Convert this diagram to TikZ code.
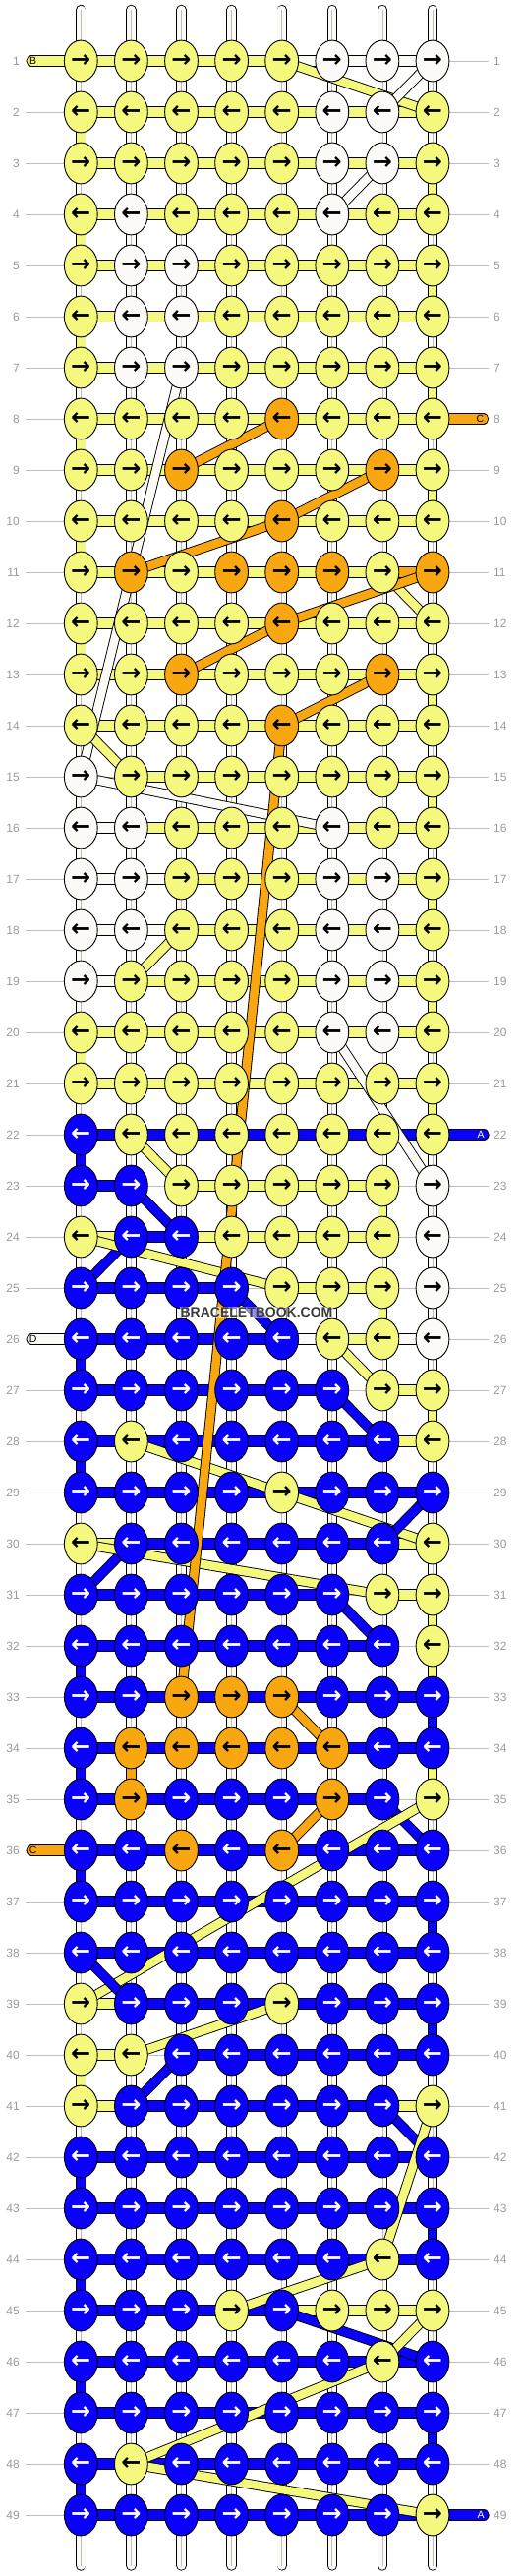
\documentclass[tikz,border=0pt]{standalone}
\usepackage{fontspec}
\setmainfont{Liberation Sans}
\newfontfamily\arrowfont{DejaVu Sans}
\usetikzlibrary{shapes.geometric}

\definecolor{yarnY}{HTML}{F4F97D}
\definecolor{yarnW}{HTML}{FBFAF7}
\definecolor{yarnO}{HTML}{F8A710}
\definecolor{yarnB}{HTML}{0A00FF}
\definecolor{guidegray}{HTML}{BDBDBD}
\definecolor{numgray}{HTML}{9A9A9A}
\definecolor{markgray}{HTML}{3C3C3C}
\colorlet{tipY}{black}
\colorlet{tipW}{black}
\colorlet{tipO}{black}
\colorlet{tipB}{white}

\pgfdeclarelayer{guides}
\pgfdeclarelayer{threads}
\pgfdeclarelayer{crossings}
\pgfsetlayers{guides,threads,crossings,main}

\tikzset{
  knot/.style={ellipse, draw, line width=0.9pt, fill=yarn#1, text=tip#1,
    minimum width=33.8pt, minimum height=41.8pt, inner sep=0pt,
    font=\arrowfont\bfseries\fontsize{24}{24}\selectfont},
  strand/.style={line width=0.9pt, double=yarn#1, double distance=8.5pt},
  link/.style={line width=0.9pt, double=yarn#1, double distance=9.5pt},
  basecore/.style={guidegray, line width=0.8pt},
  rownum/.style={text=numgray, inner sep=0pt, font=\fontsize{12}{12}\selectfont},
  tag/.style={inner sep=0pt, font=\fontsize{10.5}{10.5}\selectfont}
}

\begin{document}
\begin{tikzpicture}[x=1pt, y=-1pt]
\useasboundingbox (0,0) rectangle (532,2620);
% Knots
\foreach \r/\row in {
  1/{Y,Y,Y,Y,Y,W,W,W}, 2/{Y,Y,Y,Y,Y,W,W,Y}, 3/{Y,Y,Y,Y,Y,W,W,Y},
  4/{Y,W,Y,Y,Y,W,Y,Y}, 5/{Y,W,W,Y,Y,Y,Y,Y}, 6/{Y,W,W,Y,Y,Y,Y,Y},
  7/{Y,W,W,Y,Y,Y,Y,Y}, 8/{Y,Y,Y,Y,O,Y,Y,Y}, 9/{Y,Y,O,Y,Y,Y,O,Y},
  10/{Y,Y,Y,Y,O,Y,Y,Y}, 11/{Y,O,Y,O,O,O,Y,O}, 12/{Y,Y,Y,Y,O,Y,Y,Y},
  13/{Y,Y,O,Y,Y,Y,O,Y}, 14/{Y,Y,Y,Y,O,Y,Y,Y}, 15/{W,Y,Y,Y,Y,Y,Y,Y},
  16/{W,W,Y,Y,Y,W,Y,Y}, 17/{W,W,Y,Y,Y,W,W,Y}, 18/{W,W,Y,Y,Y,W,W,Y},
  19/{W,Y,Y,Y,Y,W,W,Y}, 20/{Y,Y,Y,Y,Y,W,W,Y}, 21/{Y,Y,Y,Y,Y,Y,Y,Y},
  22/{B,Y,Y,Y,Y,Y,Y,Y}, 23/{B,B,Y,Y,Y,Y,Y,W}, 24/{Y,B,B,Y,Y,Y,Y,W},
  25/{B,B,B,B,Y,Y,Y,W}, 26/{B,B,B,B,B,Y,Y,W}, 27/{B,B,B,B,B,B,Y,Y},
  28/{B,Y,B,B,B,B,B,Y}, 29/{B,B,B,B,Y,B,B,B}, 30/{Y,B,B,B,B,B,B,Y},
  31/{B,B,B,B,B,B,Y,Y}, 32/{B,B,B,B,B,B,B,Y}, 33/{B,B,O,O,O,B,B,B},
  34/{B,O,O,O,O,O,B,B}, 35/{B,O,B,B,B,O,B,Y}, 36/{B,B,O,B,O,B,B,B},
  37/{B,B,B,B,B,B,B,B}, 38/{B,B,B,B,B,B,B,B}, 39/{Y,B,B,B,Y,B,B,B},
  40/{Y,Y,B,B,B,B,B,B}, 41/{Y,B,B,B,B,B,B,Y}, 42/{B,B,B,B,B,B,B,B},
  43/{B,B,B,B,B,B,B,B}, 44/{B,B,B,B,B,B,Y,B}, 45/{B,B,B,Y,B,Y,Y,Y},
  46/{B,B,B,B,B,B,Y,B}, 47/{B,B,B,B,B,B,B,B}, 48/{B,Y,B,B,B,B,B,B},
  49/{B,B,B,B,B,B,B,Y}}{
  \ifodd\r \def\tip{→}\else \def\tip{←}\fi
  \foreach \k [count=\c] in \row
    \node[knot=\k] (k-\r-\c) at ({82.3+51.1*(\c-1)}, {62+52*(\r-1)}) {\tip};
}
% Row numbers and guide lines
\foreach \r in {1,...,49}{
  \node[rownum, anchor=east] (nl-\r) at (20, {62+52*(\r-1)}) {\r};
  \node[rownum, anchor=west] (nr-\r) at (502, {62+52*(\r-1)}) {\r};
  \begin{pgfonlayer}{guides}
    \draw[guidegray, line width=0.8pt, shorten <=6pt, shorten >=5pt] (nl-\r.east) -- (nr-\r.west);
  \end{pgfonlayer}
}
\begin{pgfonlayer}{threads}
% Base strings, top and bottom
\foreach \c in {1,...,8}{
  \coordinate (top-\c) at ({82.3+51.1*(\c-1)}, 10);
  \coordinate (bot-\c) at ({82.3+51.1*(\c-1)}, 2609.5);
  \draw[strand=W, line cap=round] (top-\c) -- (k-1-\c.center);
  \draw[basecore] (top-\c) -- (k-1-\c.center);
  \draw[strand=W, line cap=round] (k-49-\c.center) -- (bot-\c);
  \draw[basecore] (k-49-\c.center) -- (bot-\c);
}
% Base strings between rows
\foreach \r in {1,...,48}{
  \pgfmathtruncatemacro\s{\r+1}
  \foreach \c in {1,...,8}{
    \draw[strand=W] (k-\r-\c.center) -- (k-\s-\c.center);
    \draw[basecore] (k-\r-\c.center) -- (k-\s-\c.center);
  }
}
% Working threads turning down
\foreach \r/\c/\k in {2/1/Y, 3/8/Y, 4/1/Y, 5/8/Y, 6/1/Y, 7/8/Y, 8/1/Y, 9/8/Y,
  10/1/Y, 12/1/Y, 13/8/Y, 15/8/Y, 17/8/Y, 19/8/Y, 20/1/Y, 21/8/Y, 22/1/B,
  23/7/Y, 25/7/Y, 26/1/B, 27/8/Y, 28/1/B, 31/8/Y, 32/1/B, 32/8/Y, 33/8/B,
  34/1/B, 34/2/O, 34/8/Y, 36/1/B, 37/8/B, 39/8/B, 40/1/Y, 42/1/B, 43/8/B,
  44/1/B, 46/1/B, 47/8/B, 48/1/B}{
  \pgfmathtruncatemacro\s{\r+1}
  \draw[strand=\k] (k-\r-\c.center) -- (k-\s-\c.center);
}
% Working threads along the rows
\foreach \r/\row in {
  1/{Y,Y,Y,Y,W,W,W}, 2/{Y,Y,Y,Y,Y,Y,Y}, 3/{Y,Y,Y,Y,Y,Y,Y}, 4/{Y,Y,Y,Y,Y,Y,Y},
  5/{Y,Y,Y,Y,Y,Y,Y}, 6/{Y,Y,Y,Y,Y,Y,Y}, 7/{Y,Y,Y,Y,Y,Y,Y}, 8/{Y,Y,Y,Y,Y,Y,Y},
  9/{Y,Y,Y,Y,Y,Y,Y}, 10/{Y,Y,Y,Y,Y,Y,Y}, 11/{Y,Y,Y,Y,Y,Y,O}, 12/{Y,Y,Y,Y,Y,Y,Y},
  13/{Y,Y,Y,Y,Y,Y,Y}, 14/{Y,Y,Y,Y,Y,Y,Y}, 15/{N,Y,Y,Y,Y,Y,Y}, 16/{W,Y,Y,Y,Y,Y,Y},
  17/{W,W,Y,Y,Y,Y,Y}, 18/{W,W,Y,Y,Y,Y,Y}, 19/{W,Y,Y,Y,Y,Y,Y}, 20/{Y,Y,Y,Y,Y,Y,Y},
  21/{Y,Y,Y,Y,Y,Y,Y}, 22/{B,B,B,B,B,B,B}, 23/{B,N,Y,Y,Y,Y,N}, 24/{Y,B,Y,Y,Y,Y,N},
  25/{B,B,B,N,Y,Y,N}, 26/{B,B,B,B,W,Y,W}, 27/{B,B,B,B,B,N,Y}, 28/{B,B,B,B,B,B,Y},
  29/{B,B,B,B,B,B,B}, 30/{Y,B,B,B,B,B,Y}, 31/{B,B,B,B,B,N,Y}, 32/{B,B,B,B,B,B,N},
  33/{B,B,B,B,B,B,B}, 34/{B,B,B,B,B,B,B}, 35/{B,B,B,B,B,B,N}, 36/{B,B,B,B,B,B,B},
  37/{B,B,B,B,B,B,B}, 38/{B,B,B,B,B,B,B}, 39/{Y,B,B,B,B,B,B}, 40/{Y,N,B,B,B,B,B},
  41/{Y,B,B,B,B,B,Y}, 42/{B,B,B,B,B,B,B}, 43/{B,B,B,B,B,B,B}, 44/{B,B,B,B,B,B,B},
  45/{B,B,B,B,Y,Y,Y}, 46/{B,B,B,B,B,B,B}, 47/{B,B,B,B,B,B,B}, 48/{B,B,B,B,B,B,B},
  49/{B,B,B,B,B,B,B}}{
  \foreach \k [count=\c] in \row {
    \pgfmathtruncatemacro\n{\c+1}
    \if\k N\else \draw[link=\k] (k-\r-\c.center) -- (k-\r-\n.center);\fi
  }
}
\end{pgfonlayer}
% Loose ends
\node[tag] (tag-1) at (33.7, 62) {B};
\node[tag] (tag-8) at (488.5, 426) {C};
\node[tag, text=white] (tag-22) at (489, 1154) {A};
\node[tag] (tag-26) at (33.7, 1362) {D};
\node[tag] (tag-36) at (33.7, 1882) {C};
\node[tag, text=white] (tag-49) at (489, 2558) {A};
\begin{pgfonlayer}{threads}
  \draw[link=Y, line cap=round, shorten >=-1.5pt] (k-1-1.center) -- (tag-1.center);
  \draw[link=O, line cap=round, shorten >=-3pt] (k-8-8.center) -- (tag-8.center);
  \draw[link=B, line cap=round, shorten >=-3pt] (k-22-8.center) -- (tag-22.center);
  \draw[link=W, line cap=round, shorten >=-1.5pt] (k-26-1.center) -- (tag-26.center);
  \draw[link=O, line cap=round, shorten >=-1.5pt] (k-36-1.center) -- (tag-36.center);
  \draw[link=B, line cap=round, shorten >=-3pt] (k-49-8.center) -- (tag-49.center);
\end{pgfonlayer}
% Threads crossing over
\begin{pgfonlayer}{crossings}
\foreach \ra/\ca/\rb/\cb/\k in {1/5/2/8/Y, 1/8/2/7/W, 3/7/4/6/W, 7/3/15/1/W,
  8/5/9/3/O, 9/7/10/5/O, 10/5/11/2/O, 11/7/12/8/Y, 11/8/12/5/O, 12/5/13/3/O,
  13/7/14/5/O, 14/1/15/2/Y, 15/1/16/6/W, 18/3/19/2/Y, 20/6/23/8/W, 22/2/23/3/Y,
  23/2/24/3/B, 24/2/25/1/B, 24/1/25/5/Y, 25/4/26/5/B, 26/6/27/7/Y, 27/6/28/7/B,
  28/2/29/5/Y, 29/5/30/8/Y, 29/8/30/7/B, 30/2/31/1/B, 30/1/31/7/Y, 31/6/32/7/B,
  33/5/34/6/O, 35/6/36/5/O, 35/7/36/8/B, 35/8/39/1/Y, 38/1/39/2/B, 39/5/40/2/Y,
  40/3/41/2/B, 41/7/42/8/B, 41/8/44/7/Y, 44/7/45/4/Y, 45/5/46/8/B, 45/8/46/7/Y,
  46/7/48/2/Y, 48/2/49/8/Y, 14/5/33/3/O}
  \draw[strand=\k] (k-\ra-\ca.center) -- (k-\rb-\cb.center);
\end{pgfonlayer}
% Watermark
\node[font=\bfseries\fontsize{14}{14}\selectfont, text=markgray, fill=white,
  fill opacity=0.55, text opacity=1, inner sep=1pt] (mark) at (261, 1335) {BRACELETBOOK.COM};
\end{tikzpicture}
\end{document}
